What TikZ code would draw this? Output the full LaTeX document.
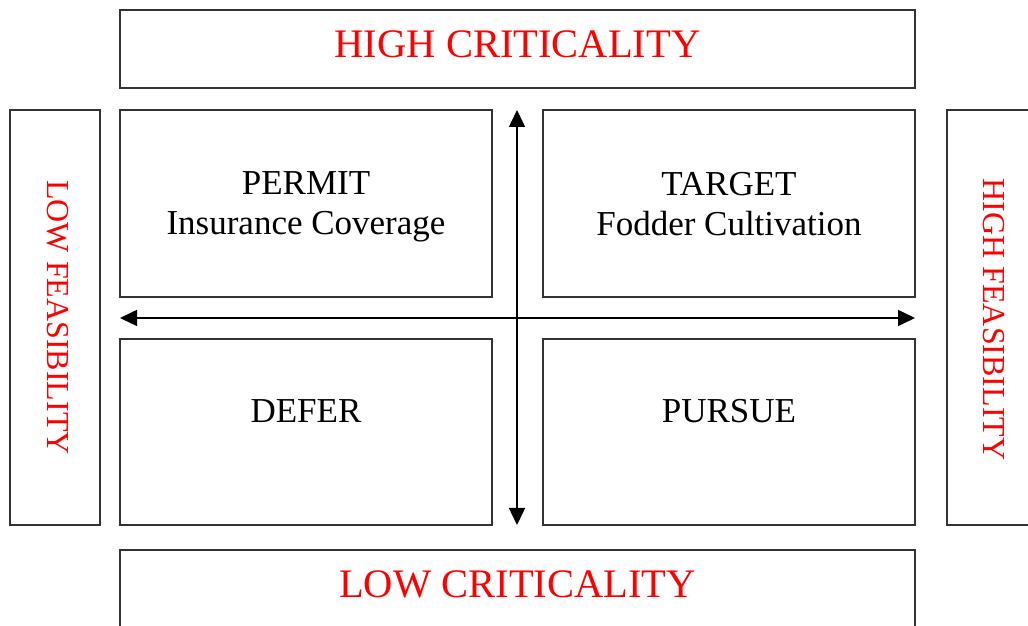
\documentclass[tikz,border=0pt]{standalone}
\usepackage{fontspec}
\setmainfont{Liberation Serif}
\usetikzlibrary{arrows.meta, calc, positioning}

\tikzset{
  cell/.style={draw=black!80, line width=1.3pt, inner sep=0pt},
  headtext/.style={text=red, font=\fontsize{40.5}{48}\selectfont},
  sidetext/.style={text=red, font=\fontsize{32}{38}\selectfont, rotate=-90},
  quadtext/.style={font=\fontsize{35}{40}\selectfont, align=center},
  axis/.style={line width=1.5pt, {Triangle[length=17pt,width=16pt]}-{Triangle[length=17pt,width=16pt]}}
}

\begin{document}
\begin{tikzpicture}[x=1pt, y=1pt]

%% page size of the reference
\useasboundingbox (0,0) rectangle (1028,626);

%% outer boxes
\node[cell, minimum width=795, minimum height=78] (high) at (517.5, 577) {};
\node[cell, minimum width=795, minimum height=78] (low) at (517.5, 37) {};
\node[cell, minimum width=90, minimum height=415] (lowfeas) at (55, 308.5) {};
\node[cell, minimum width=91, minimum height=415] (highfeas) at (992.5, 308.5) {};

\node[headtext] (hightxt) at (517.5, 582) {HIGH CRITICALITY};
\node[headtext] (lowtxt) at (517.5, 42) {LOW CRITICALITY};
\node[sidetext] (lowfeastxt) at (57.5, 308.5) {LOW FEASIBILITY};
\node[sidetext] (highfeastxt) at (994, 306.5) {HIGH FEASIBILITY};

%% the four quadrants
\node[cell, minimum width=372, minimum height=187] (permit) at (306, 422.5) {};
\node[cell, minimum width=372, minimum height=187] (target) at (729, 422.5) {};
\node[cell, minimum width=372, minimum height=186] (defer) at (306, 194) {};
\node[cell, minimum width=372, minimum height=186] (pursue) at (729, 194) {};

\node[quadtext] (permittxt) at ($(permit) + (0, -3)$) {PERMIT\\Insurance Coverage};
\node[quadtext] (targettxt) at ($(target) + (0, -1)$) {TARGET\\Fodder Cultivation};
\node[quadtext] (defertxt) at ($(defer) + (0, 21)$) {DEFER};
\node[quadtext] (pursuetxt) at ($(pursue) + (0, 21)$) {PURSUE};

%% axes
\coordinate (vtop) at (517, 516);
\coordinate (vbot) at (517, 101);
\coordinate (hleft) at (120, 308);
\coordinate (hright) at (915, 308);

\draw[axis] (vbot) -- (vtop);
\draw[axis] (hleft) -- (hright);

\end{tikzpicture}
\end{document}
